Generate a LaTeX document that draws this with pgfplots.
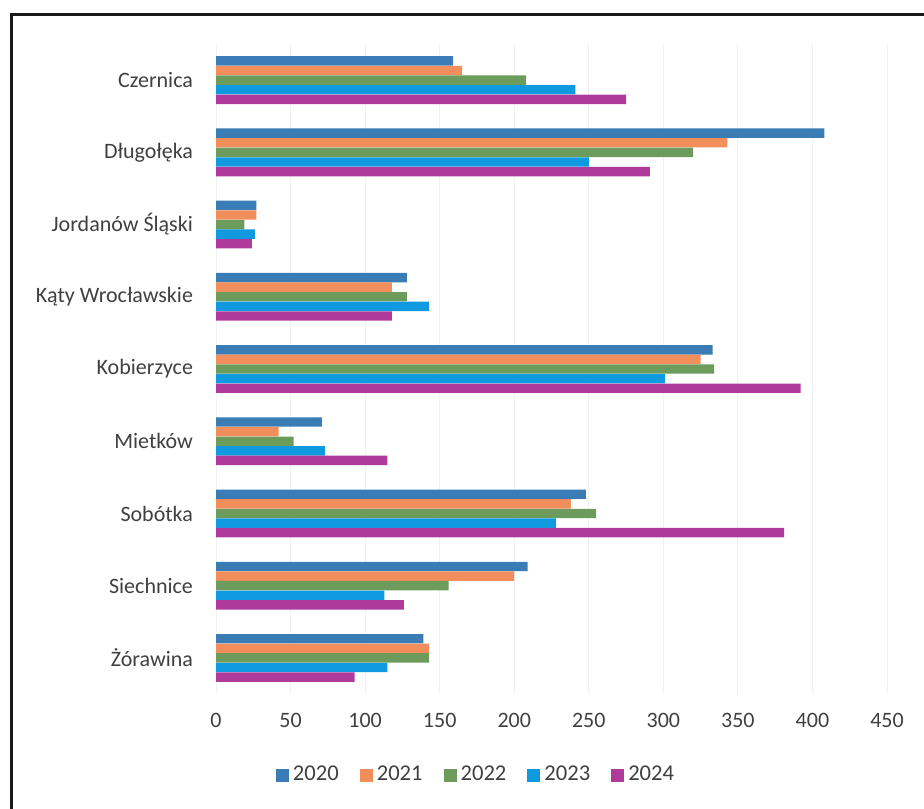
\documentclass[border=0pt]{standalone}
\usepackage{pgfplots}
\pgfplotsset{compat=1.18}
\usepackage{pgfplotstable}
\usepackage{fontspec}
\setmainfont{Carlito}

\definecolor{c2020}{HTML}{3A7DB6}
\definecolor{c2021}{HTML}{F28E5C}
\definecolor{c2022}{HTML}{6D9B5C}
\definecolor{c2023}{HTML}{0F9AE0}
\definecolor{c2024}{HTML}{B0399C}
\definecolor{txt}{HTML}{404040}

% one row per gmina, top to bottom
\pgfplotstableread{
idx  y2020 y2021 y2022 y2023 y2024
0    159   165   208   241   275
1    408   343   320   250   291
2    27    27    19    26    24
3    128   118   128   143   118
4    333   325   334   301   392
5    71    42    52    73    115
6    248   238   255   228   381
7    209   200   156   113   126
8    139   143   143   115   93
}\gminy

\begin{document}
\begin{tikzpicture}[x=1pt,y=1pt]
\useasboundingbox (0,0) rectangle (462,404);
\draw[line width=1.5pt, black!90] (5.5,-10) -- (5.5,396.5) -- (480,396.5);
\begin{axis}[
    at={(108pt,57pt)}, anchor=south west,
    scale only axis, width=335.5pt, height=325pt,
    xmin=0, xmax=450, ymin=-0.5, ymax=8.5,
    y dir=reverse,
    xbar, bar width=4.7pt,
    xtick={0,50,...,450},
    ytick={0,...,8},
    yticklabels={Czernica, Długołęka, Jordanów Śląski, Kąty Wrocławskie,
                 Kobierzyce, Mietków, Sobótka, Siechnice, Żórawina},
    axis line style={draw=none},
    major tick length=0pt,
    xmajorgrids, grid style={black!5},
    tick label style={font=\fontsize{11}{13}\selectfont, text=txt},
    /pgf/number format/assume math mode=true,
    yticklabel style={xshift=-8pt},
    xticklabel style={yshift=-6pt},
    legend columns=5,
    legend style={draw=none, at={(0.389,-0.1246)}, anchor=center,
        font=\fontsize{11.3}{13}\selectfont, text=txt,
        /tikz/every even column/.append style={column sep=8.5pt}},
    legend image code/.code={\fill[#1] (0pt,-3.25pt) rectangle (6.5pt,3.25pt);},
]
\addplot[fill=c2020, draw=none, bar shift=9.6pt] table[x=y2020, y=idx] {\gminy};
\addplot[fill=c2021, draw=none, bar shift=4.8pt] table[x=y2021, y=idx] {\gminy};
\addplot[fill=c2022, draw=none, bar shift=0pt] table[x=y2022, y=idx] {\gminy};
\addplot[fill=c2023, draw=none, bar shift=-4.8pt] table[x=y2023, y=idx] {\gminy};
\addplot[fill=c2024, draw=none, bar shift=-9.6pt] table[x=y2024, y=idx] {\gminy};
\legend{2020, 2021, 2022, 2023, 2024}
\end{axis}
\end{tikzpicture}
\end{document}
